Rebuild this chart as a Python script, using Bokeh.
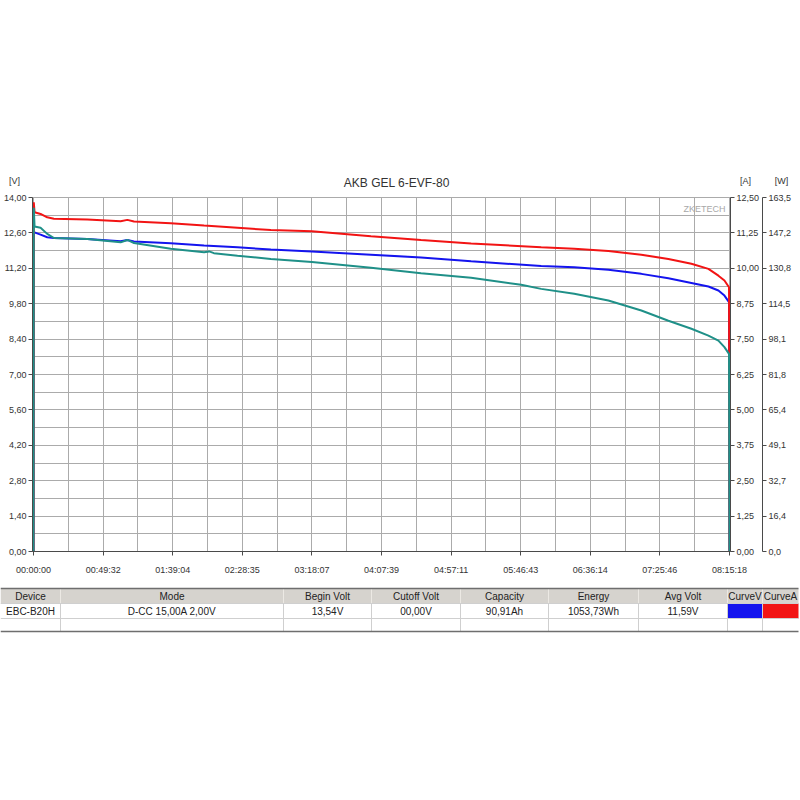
from bokeh.plotting import figure
from bokeh.models import Range1d, LinearAxis, FixedTicker, Label
from bokeh.core.properties import value
from bokeh.embed import file_html
from bokeh.resources import INLINE

chart_title = "AKB GEL  6-EVF-80"

# seconds since start of the discharge
volt_time = [0, 10, 299, 584, 868, 2296, 3720, 4006, 4290, 5858, 7282, 8710, 10134, 11887,
             14410, 16548, 18686, 21679, 23090, 24545, 25955, 27110, 28093, 28820, 29247,
             29504, 29700, 29718]
volt = [0, 12.63, 12.53, 12.43, 12.40, 12.36, 12.27, 12.32, 12.26, 12.19, 12.10, 12.03, 11.94,
        11.86, 11.74, 11.63, 11.48, 11.29, 11.24, 11.14, 10.98, 10.81, 10.62, 10.48, 10.32,
        10.12, 9.86, 0]

amp_time = [0, 10, 43, 299, 584, 868, 2296, 3720, 4006, 4290, 5858, 7282, 8710, 10134, 11887,
            14410, 16548, 18686, 21679, 23090, 24545, 25955, 27110, 28093, 28820, 29247,
            29504, 29700, 29718]
amp = [0, 12.33, 11.98, 11.92, 11.80, 11.75, 11.72, 11.66, 11.71, 11.65, 11.59, 11.51, 11.43,
       11.35, 11.31, 11.13, 11.00, 10.88, 10.74, 10.69, 10.61, 10.48, 10.33, 10.16, 9.98,
       9.74, 9.57, 9.33, 0]

watt_time = [0, 10, 43, 299, 584, 868, 2296, 3720, 4006, 4290, 5858, 7282, 7500, 7700, 8710,
             10134, 11887, 14410, 16548, 18686, 20824, 21679, 23090, 24545, 25955, 27110,
             28093, 28820, 29247, 29504, 29700, 29718]
watt = [0, 158.8, 150.1, 149.5, 146.7, 144.8, 144.3, 142.8, 143.9, 142.5, 139.8, 138.2, 138.6,
        137.8, 136.6, 135.1, 133.7, 131.0, 128.5, 126.4, 123.2, 121.3, 119.0, 115.9, 111.3,
        106.6, 102.9, 99.7, 97.4, 94.4, 91.3, 0]

time_ticks = [0, 2972, 5944, 8915, 11887, 14859, 17831, 20803, 23774, 26746, 29718]
time_labels = ["00:00:00", "00:49:32", "01:39:04", "02:28:35", "03:18:07", "04:07:39",
               "04:57:11", "05:46:43", "06:36:14", "07:25:46", "08:15:18"]
volt_ticks = [0, 1.4, 2.8, 4.2, 5.6, 7.0, 8.4, 9.8, 11.2, 12.6, 14.0]
volt_labels = ["0,00", "1,40", "2,80", "4,20", "5,60", "7,00", "8,40", "9,80", "11,20",
               "12,60", "14,00"]
amp_ticks = [0, 1.25, 2.5, 3.75, 5.0, 6.25, 7.5, 8.75, 10.0, 11.25, 12.5]
amp_labels = ["0,00", "1,25", "2,50", "3,75", "5,00", "6,25", "7,50", "8,75", "10,00",
              "11,25", "12,50"]
watt_ticks = [0, 16.35, 32.7, 49.05, 65.4, 81.75, 98.1, 114.45, 130.8, 147.15, 163.5]
watt_labels = ["0,0", "16,4", "32,7", "49,1", "65,4", "81,8", "98,1", "114,5", "130,8",
               "147,2", "163,5"]
unit_labels = ["[V]", "[A]", "[W]"]

table_header = ["Device", "Mode", "Begin Volt", "Cutoff Volt", "Capacity", "Energy",
                "Avg Volt", "CurveV", "CurveA"]
table_row = ["EBC-B20H", "D-CC 15,00A 2,00V", "13,54V", "00,00V", "90,91Ah", "1053,73Wh",
             "11,59V", "", ""]

FONT = "Liberation Sans"
BLUE = "#1414ee"
RED = "#f21414"
TEAL = "#1f9088"
GRID = "#ababab"
AXIS = "#4a4a4a"
TXT = "#333333"

# --- header strip: title and unit captions (x/y in page pixels) ---
h = figure(width=800, height=190, x_range=Range1d(0, 800), y_range=Range1d(190, 0),
           output_backend="svg", toolbar_location=None, min_border=0, title=None,
           x_axis_location=None, y_axis_location=None)
h.grid.visible = False
h.outline_line_color = None
h.text(x=[398], y=[182], text=[chart_title], text_align="center", text_baseline="middle",
       text_font=value(FONT), text_font_size="12px", text_color=TXT)
h.text(x=[14, 745, 781], y=[180, 180, 180], text=unit_labels, text_align="center",
       text_baseline="middle", text_font=value(FONT), text_font_size="9px", text_color=TXT)

# --- the chart ---
pad = 45
p = figure(width=800, height=394, x_range=Range1d(-pad, time_ticks[-1] + pad),
           y_range=Range1d(0, volt_ticks[-1]), output_backend="svg", toolbar_location=None,
           title=None, min_border_left=30, min_border_right=70, min_border_top=7,
           min_border_bottom=33)
p.extra_y_ranges = {"amp": Range1d(0, amp_ticks[-1]), "watt": Range1d(0, watt_ticks[-1])}
p.outline_line_color = GRID


def style_axis(ax):
    ax.axis_line_color = AXIS
    ax.major_tick_line_color = AXIS
    ax.major_tick_out = 4
    ax.major_tick_in = 0
    ax.minor_tick_line_color = None
    ax.major_label_text_font = FONT
    ax.major_label_text_font_size = "9px"
    ax.major_label_text_color = TXT
    ax.major_label_standoff = 2


p.xaxis.ticker = FixedTicker(ticks=time_ticks)
p.xaxis.major_label_overrides = dict(zip(time_ticks, time_labels))
p.yaxis.ticker = FixedTicker(ticks=volt_ticks)
p.yaxis.major_label_overrides = dict(zip(volt_ticks, volt_labels))

amp_axis = LinearAxis(y_range_name="amp", ticker=FixedTicker(ticks=amp_ticks),
                      major_label_overrides=dict(zip(amp_ticks, amp_labels)))
watt_axis = LinearAxis(y_range_name="watt", ticker=FixedTicker(ticks=watt_ticks),
                       major_label_overrides=dict(zip(watt_ticks, watt_labels)))
p.add_layout(amp_axis, "right")
p.add_layout(watt_axis, "right")
for ax in [p.xaxis[0], p.yaxis[0], amp_axis, watt_axis]:
    style_axis(ax)
p.xaxis.major_label_standoff = 9

# grid has one extra line between every labelled tick
xg = [(a + b) / 2 for a, b in zip(time_ticks[:-1], time_ticks[1:])]
yg = [(a + b) / 2 for a, b in zip(volt_ticks[:-1], volt_ticks[1:])]
p.xgrid.ticker = FixedTicker(ticks=time_ticks + xg)
p.ygrid.ticker = FixedTicker(ticks=volt_ticks + yg)
p.grid.grid_line_color = GRID
p.grid.grid_line_width = 1

p.line(volt_time, volt, color=BLUE, line_width=2)
p.line(amp_time, amp, color=RED, line_width=2, y_range_name="amp")
p.line(watt_time, watt, color=TEAL, line_width=2, y_range_name="watt")

p.add_layout(Label(x=time_ticks[-1], y=volt_ticks[-1], x_offset=-4, y_offset=-6,
                   text="ZKETECH", text_align="right", text_baseline="top", text_font=FONT,
                   text_font_size="9px", text_color="#a8a8a8"))

# --- summary table under the chart (x/y in page pixels) ---
edges = [0, 60, 283, 371, 460, 548, 638, 727, 762, 798]
lefts = edges[:-1]
rights = edges[1:]
centers = [(a + b) / 2 for a, b in zip(lefts, rights)]
fills = ["white"] * 7 + [BLUE, RED]

t = figure(width=800, height=56, x_range=Range1d(0, 800), y_range=Range1d(56, 0),
           output_backend="svg", toolbar_location=None, min_border=0, title=None,
           x_axis_location=None, y_axis_location=None)
t.grid.visible = False
t.outline_line_color = None
t.quad(left=lefts, right=rights, top=4, bottom=19, fill_color="#d6d3ce", line_color=None)
t.quad(left=lefts, right=rights, top=19, bottom=34, fill_color=fills, line_color=None)
t.segment(x0=edges[1:-1], y0=4, x1=edges[1:-1], y1=19, color="#ece9e4", line_width=1)
t.segment(x0=edges[1:-1], y0=19, x1=edges[1:-1], y1=47, color="#cfcfcf", line_width=1)
t.segment(x0=[0, 0], y0=[34, 19], x1=[798, 798], y1=[34, 19], color="#cfcfcf", line_width=1)
t.segment(x0=[0, 0], y0=[4, 47], x1=[798, 798], y1=[4, 47], color="#6e6e6e", line_width=1.5)
t.text(x=centers, y=11.5, text=table_header, text_align="center", text_baseline="middle",
       text_font=value(FONT), text_font_size="10px", text_color="#222222")
t.text(x=centers, y=26.5, text=table_row, text_align="center", text_baseline="middle",
       text_font=value(FONT), text_font_size="10px", text_color="#222222")

open("out.html", "w").write(file_html([h, p, t], INLINE))
